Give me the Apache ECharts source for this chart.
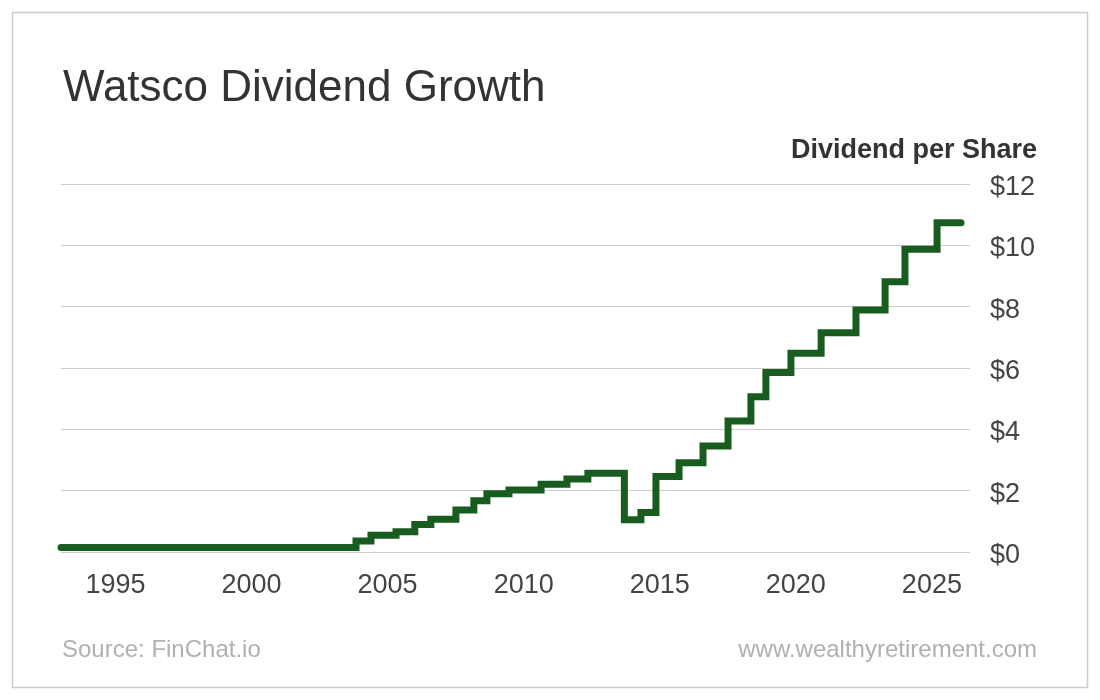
<!DOCTYPE html>
<html>
<head>
<meta charset="utf-8">
<script src="https://cdn.jsdelivr.net/npm/echarts@6/dist/echarts.min.js"></script>
<style>
  html, body { margin: 0; padding: 0; background: #ffffff; }
  #chart { width: 1100px; height: 700px; }
</style>
</head>
<body>
<div id="chart"></div>
<script>
// Dates (decimal years) at which the annual dividend rate changes
var changeYears = [1993.0, 2003.84, 2004.39, 2005.31, 2006.0, 2006.59, 2007.51, 2008.17, 2008.65,
  2009.46, 2010.64, 2011.59, 2012.36, 2013.70, 2014.31, 2014.86, 2015.71, 2016.59,
  2017.51, 2018.35, 2018.90, 2019.82, 2020.93, 2022.21, 2023.28, 2024.01, 2025.19, 2026.07];
// Dividend per share ($) from each date on
var dividendValues = [0.15, 0.36, 0.55, 0.66, 0.90, 1.07, 1.37, 1.67, 1.90,
  2.02, 2.21, 2.38, 2.57, 1.05, 1.29, 2.46, 2.91, 3.46,
  4.27, 5.06, 5.85, 6.48, 7.15, 7.89, 8.81, 9.87, 10.74, 10.74];
var xTickYears = [1995, 2000, 2005, 2010, 2015, 2020, 2025];
var yTicks = [0, 2, 4, 6, 8, 10, 12];

var seriesData = changeYears.map(function (y, i) { return [y, dividendValues[i]]; });

var FONT = '"Liberation Sans", Arial, Helvetica, sans-serif';
var chart = echarts.init(document.getElementById('chart'));
chart.setOption({
  backgroundColor: '#ffffff',
  animation: false,
  grid: { left: 61, right: 130, top: 184, bottom: 148, containLabel: false },
  xAxis: {
    type: 'value',
    min: 1993,
    max: 2026.4,
    axisLine: { show: false },
    axisTick: { show: false },
    splitLine: { show: false },
    axisLabel: {
      customValues: xTickYears,
      margin: 20,
      fontSize: 27,
      color: '#444',
      fontFamily: FONT,
      formatter: function (v) { return String(Math.round(v)); }
    }
  },
  yAxis: {
    type: 'value',
    position: 'right',
    min: yTicks[0],
    max: yTicks[yTicks.length - 1],
    interval: 2,
    axisLine: { show: false },
    axisTick: { show: false },
    splitLine: { lineStyle: { color: '#cccccc', width: 1 } },
    axisLabel: {
      margin: 20,
      formatter: function (v) { return '{a|$' + v + '}'; },
      rich: {
        a: { fontSize: 27, color: '#444', fontFamily: FONT, padding: [7, 0, 0, 0] }
      }
    }
  },
  series: [{
    type: 'line',
    step: 'end',
    data: seriesData,
    showSymbol: false,
    symbol: 'none',
    lineStyle: { color: '#185c1f', width: 7, cap: 'round', join: 'miter' },
    z: 5
  }],
  graphic: [
    { type: 'rect', shape: { x: 12.5, y: 12.5, width: 1075, height: 675 },
      style: { fill: 'none', stroke: '#cccccc', lineWidth: 1.5 }, silent: true },
    { type: 'text', x: 63, y: 89,
      style: { text: 'Watsco Dividend Growth', font: '44px ' + FONT, fill: '#333333',
        textAlign: 'left', textVerticalAlign: 'middle' } },
    { type: 'text', x: 1037, y: 151,
      style: { text: 'Dividend per Share', font: 'bold 27px ' + FONT, fill: '#333333',
        textAlign: 'right', textVerticalAlign: 'middle' } },
    { type: 'text', x: 62, y: 650,
      style: { text: 'Source: FinChat.io', font: '24px ' + FONT, fill: '#b0b0b0',
        textAlign: 'left', textVerticalAlign: 'middle' } },
    { type: 'text', x: 1037, y: 650,
      style: { text: 'www.wealthyretirement.com', font: '24px ' + FONT, fill: '#b0b0b0',
        textAlign: 'right', textVerticalAlign: 'middle' } }
  ]
});
</script>
</body>
</html>
